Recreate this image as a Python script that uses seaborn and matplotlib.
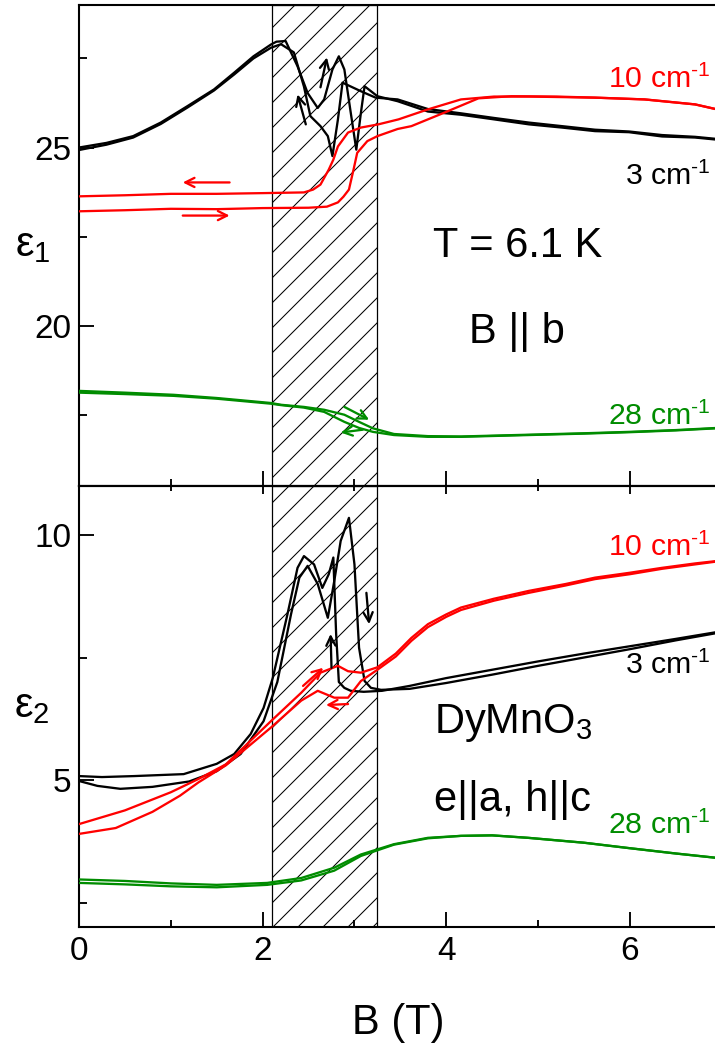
#!/usr/bin/env python3
"""eps1 / eps2 of DyMnO3 vs magnetic field, two stacked panels."""
import seaborn as sns
import matplotlib.pyplot as plt
from matplotlib.ticker import MultipleLocator

sns.set_theme(style="ticks")
plt.rcParams["font.family"] = ["Liberation Sans", "DejaVu Sans"]
plt.rcParams["mathtext.fontset"] = "custom"
plt.rcParams["mathtext.rm"] = "Liberation Sans"
plt.rcParams["mathtext.it"] = "Liberation Sans:italic"
plt.rcParams["hatch.linewidth"] = 0.5
for key in ("text.color", "axes.labelcolor", "xtick.color", "ytick.color", "axes.edgecolor"):
    plt.rcParams[key] = "black"

RED = "#ff0000"
GREEN = "#008c00"
BLACK = "black"

# ---- eps1 (upper panel) ----
e1_3_up_x = [0, 0.30, 0.59, 0.89, 1.18, 1.47, 1.69, 1.90, 2.09, 2.15, 2.25, 2.38, 2.49, 2.60,
             2.67, 2.76, 2.83, 2.89, 2.96, 3.02, 3.07, 3.11, 3.25, 3.47, 3.80, 4.16, 4.52,
             4.90, 5.26, 5.62, 5.99, 6.35, 6.71, 6.95]
e1_3_up_y = [25.00, 25.13, 25.32, 25.70, 26.16, 26.63, 27.10, 27.56, 27.89, 27.97, 27.99, 27.28,
             26.53, 26.11, 26.35, 27.19, 27.56, 27.19, 25.97, 24.94, 25.97, 26.72, 26.44, 26.30,
             26.01, 25.92, 25.79, 25.65, 25.56, 25.46, 25.43, 25.31, 25.28, 25.22]
e1_3_dn_x = [0, 0.30, 0.59, 0.89, 1.18, 1.47, 1.69, 1.90, 2.09, 2.20, 2.34, 2.45, 2.52, 2.63,
             2.71, 2.76, 2.82, 2.87, 3.07, 3.23, 3.47, 3.80, 4.16, 4.52, 4.90, 5.26, 5.62,
             5.99, 6.35, 6.71, 6.95]
e1_3_dn_y = [24.93, 25.08, 25.28, 25.66, 26.12, 26.60, 27.05, 27.50, 27.80, 27.90, 27.67, 26.71,
             25.88, 25.60, 25.32, 24.76, 25.79, 26.82, 26.58, 26.40, 26.35, 26.08, 25.96, 25.83,
             25.70, 25.60, 25.50, 25.45, 25.35, 25.30, 25.24]

e1_10_up_x = [0, 0.5, 1.0, 1.5, 2.0, 2.5, 2.7, 2.82, 2.88, 2.94, 2.99, 3.03, 3.14, 3.25, 3.47,
              3.62, 3.98, 4.35, 4.71, 5.2, 5.62, 6.16, 6.71, 6.95]
e1_10_up_y = [23.21, 23.24, 23.28, 23.27, 23.30, 23.31, 23.34, 23.46, 23.62, 23.82, 24.38, 24.85,
              25.18, 25.32, 25.52, 25.60, 25.98, 26.38, 26.44, 26.43, 26.40, 26.35, 26.21, 26.07]
e1_10_dn_x = [0, 0.5, 1.0, 1.5, 2.0, 2.45, 2.55, 2.63, 2.72, 2.77, 2.82, 2.93, 3.07, 3.26, 3.48,
              3.80, 4.16, 4.52, 4.90, 5.62, 6.16, 6.71, 6.95]
e1_10_dn_y = [23.63, 23.66, 23.70, 23.70, 23.72, 23.74, 23.82, 23.96, 24.38, 24.66, 25.03, 25.42,
              25.56, 25.65, 25.79, 26.07, 26.35, 26.43, 26.43, 26.40, 26.35, 26.21, 26.07]

e1_28_x = [0, 0.5, 1.03, 1.5, 2.09, 2.20, 2.45, 2.67, 2.89, 3.05, 3.2, 3.43, 3.80, 4.16, 4.9,
           5.5, 6.0, 6.5, 6.95]
e1_28_up_y = [18.17, 18.12, 18.06, 17.97, 17.83, 17.78, 17.72, 17.64, 17.50, 17.30, 17.12, 16.96,
              16.90, 16.89, 16.94, 16.98, 17.02, 17.07, 17.13]
e1_28_dn_y = [18.12, 18.08, 18.03, 17.95, 17.81, 17.77, 17.70, 17.58, 17.30, 17.13, 17.02, 16.93,
              16.88, 16.88, 16.93, 16.97, 17.01, 17.06, 17.12]

# ---- eps2 (lower panel) ----
e2_3_up_x = [0, 0.2, 0.45, 0.8, 1.2, 1.5, 1.76, 2.01, 2.16, 2.31, 2.40, 2.49, 2.60, 2.71, 2.78,
             2.85, 2.94, 3.00, 3.05, 3.11, 3.18, 3.29, 3.6, 4.0, 4.5, 5.0, 5.5, 6.0, 6.5, 6.95]
e2_3_up_y = [4.98, 4.88, 4.82, 4.86, 4.97, 5.18, 5.53, 6.20, 7.00, 8.39, 9.13, 9.37, 9.00, 8.31,
             9.06, 9.88, 10.35, 9.40, 7.70, 7.02, 6.88, 6.84, 6.86, 6.98, 7.15, 7.33, 7.50, 7.67,
             7.85, 8.00]
e2_3_dn_x = [0, 0.25, 0.6, 1.14, 1.50, 1.69, 1.87, 2.01, 2.11, 2.27, 2.38, 2.45, 2.56, 2.65,
             2.72, 2.77, 2.80, 2.83, 2.89, 2.96, 3.1, 3.3, 3.6, 4.0, 4.5, 5.0, 5.5, 6.0, 6.5, 6.95]
e2_3_dn_y = [5.08, 5.06, 5.08, 5.12, 5.33, 5.53, 5.94, 6.47, 7.08, 8.38, 9.33, 9.57, 9.40, 8.92,
             9.20, 9.54, 8.00, 7.00, 6.88, 6.82, 6.80, 6.82, 6.92, 7.08, 7.25, 7.42, 7.58, 7.73,
             7.88, 8.02]

e2_10_up_x = [0, 0.5, 1.0, 1.3, 1.6, 2.09, 2.42, 2.63, 2.82, 2.93, 3.07, 3.25, 3.45, 3.62, 3.8,
              4.0, 4.16, 4.52, 4.9, 5.3, 5.62, 6.0, 6.35, 6.71, 6.95]
e2_10_up_y = [4.10, 4.38, 4.75, 5.02, 5.32, 6.20, 6.78, 7.19, 7.33, 7.22, 7.19, 7.30, 7.58, 7.90,
              8.18, 8.38, 8.52, 8.70, 8.86, 9.00, 9.13, 9.23, 9.33, 9.42, 9.47]
e2_10_dn_x = [0, 0.4, 0.8, 1.1, 1.3, 1.6, 2.09, 2.42, 2.60, 2.78, 2.93, 3.07, 3.25, 3.45, 3.62,
              3.8, 4.0, 4.16, 4.52, 4.9, 5.3, 5.62, 6.0, 6.35, 6.71, 6.95]
e2_10_dn_y = [3.90, 4.02, 4.35, 4.68, 4.95, 5.30, 6.07, 6.62, 6.82, 6.68, 6.68, 7.02, 7.25, 7.52,
              7.84, 8.12, 8.33, 8.47, 8.66, 8.82, 8.97, 9.10, 9.20, 9.31, 9.40, 9.46]

e2_28_x = [0, 0.5, 1.0, 1.5, 2.05, 2.42, 2.78, 3.07, 3.43, 3.8, 4.16, 4.5, 4.89, 5.5, 5.99,
           6.5, 6.95]
e2_28_up_y = [2.97, 2.94, 2.89, 2.86, 2.90, 3.00, 3.21, 3.48, 3.69, 3.82, 3.86, 3.87, 3.82, 3.72,
              3.61, 3.50, 3.41]
e2_28_dn_y = [2.90, 2.87, 2.83, 2.81, 2.86, 2.95, 3.15, 3.45, 3.68, 3.81, 3.86, 3.87, 3.82, 3.72,
              3.61, 3.50, 3.41]

# hysteresis region (T)
band = (2.1, 3.25)

# sweep arrows: (tail x, tail y, head x, head y, colour)
e1_arrows = [
    (1.64, 24.02, 1.13, 24.02, RED),
    (1.13, 23.09, 1.64, 23.09, RED),
    (2.47, 25.65, 2.38, 26.49, BLACK),
    (2.63, 26.69, 2.70, 27.53, BLACK),
    (2.89, 17.72, 3.16, 17.36, GREEN),
    (3.09, 17.08, 2.85, 17.00, GREEN),
]
e2_arrows = [
    (2.44, 6.92, 2.66, 7.29, RED),
    (2.93, 6.55, 2.69, 6.53, RED),
    (2.75, 7.29, 2.74, 7.98, BLACK),
    (3.13, 8.82, 3.16, 8.18, BLACK),
]

freq_labels = ["10 cm", "3 cm", "28 cm"]
freq_colors = [RED, BLACK, GREEN]
e1_label_y = [26.66, 23.96, 17.22]
e2_label_y = [9.57, 7.16, 3.90]

DPI = 150
fig = plt.figure(figsize=(715 / DPI, 1050 / DPI), dpi=DPI)
left = 79 / 715
width = 1.003 - left
ax1 = fig.add_axes([left, 1 - 486 / 1050, width, 481 / 1050])
ax2 = fig.add_axes([left, 1 - 927 / 1050, width, 441 / 1050], sharex=ax1)

LW = 1.1


def draw(ax, x, y, color):
    sns.lineplot(x=x, y=y, ax=ax, color=color, lw=LW, sort=False, estimator=None, zorder=3)


draw(ax1, e1_3_up_x, e1_3_up_y, BLACK)
draw(ax1, e1_3_dn_x, e1_3_dn_y, BLACK)
draw(ax1, e1_10_up_x, e1_10_up_y, RED)
draw(ax1, e1_10_dn_x, e1_10_dn_y, RED)
draw(ax1, e1_28_x, e1_28_up_y, GREEN)
draw(ax1, e1_28_x, e1_28_dn_y, GREEN)

draw(ax2, e2_3_up_x, e2_3_up_y, BLACK)
draw(ax2, e2_3_dn_x, e2_3_dn_y, BLACK)
draw(ax2, e2_10_up_x, e2_10_up_y, RED)
draw(ax2, e2_10_dn_x, e2_10_dn_y, RED)
draw(ax2, e2_28_x, e2_28_up_y, GREEN)
draw(ax2, e2_28_x, e2_28_dn_y, GREEN)

for ax, arrows in ((ax1, e1_arrows), (ax2, e2_arrows)):
    ax.axvspan(*band, facecolor="none", edgecolor="black", hatch="//", lw=0.6, zorder=1)
    for tx, ty, hx, hy, c in arrows:
        ax.annotate("", xy=(hx, hy), xytext=(tx, ty),
                    arrowprops=dict(arrowstyle="->", color=c, lw=1.1,
                                    shrinkA=0, shrinkB=0, mutation_scale=11),
                    zorder=4)

sup = "$^{\\text{-1}}$"
for ax, ys in ((ax1, e1_label_y), (ax2, e2_label_y)):
    for lab, c, y in zip(freq_labels, freq_colors, ys):
        ax.text(6.88, y, lab + sup, color=c, fontsize=14.5, ha="right", va="baseline")

ax1.text(3.86, 21.94, "T = 6.1 K", fontsize=20, va="baseline")
ax1.text(4.25, 19.52, "B || b", fontsize=20, va="baseline")
ax2.text(3.87, 5.96, "DyMnO$_3$", fontsize=20, va="baseline")
ax2.text(3.87, 4.37, "e||a, h||c", fontsize=20, va="baseline")

ax1.set_xlim(0, 6.95)
ax1.set_ylim(15.5, 29.0)
ax2.set_ylim(2.0, 11.0)

ax1.yaxis.set_major_locator(MultipleLocator(5))
ax1.yaxis.set_minor_locator(MultipleLocator(2.5))
ax2.yaxis.set_major_locator(MultipleLocator(5))
ax2.yaxis.set_minor_locator(MultipleLocator(2.5))
ax2.xaxis.set_major_locator(MultipleLocator(2))
ax2.xaxis.set_minor_locator(MultipleLocator(1))

for ax in (ax1, ax2):
    for s in ax.spines.values():
        s.set_linewidth(1.0)
        s.set_color("black")
    ax.tick_params(which="both", direction="in", width=0.9, color="black",
                   labelsize=16, labelcolor="black", right=False, top=False)
    ax.tick_params(which="major", length=7.2)
    ax.tick_params(which="minor", length=3.6)
    ax.tick_params(axis="y", pad=3.5)
    ax.tick_params(axis="x", pad=4.5)
    ax.set_xlabel("")

ax1.tick_params(labelbottom=False)
ax2.spines["top"].set_zorder(5)

top = ax2.secondary_xaxis("top")
top.xaxis.set_major_locator(MultipleLocator(2))
top.xaxis.set_minor_locator(MultipleLocator(1))
top.tick_params(which="both", direction="in", width=0.9, labeltop=False, color="black")
top.tick_params(which="major", length=4)
top.tick_params(which="minor", length=2.5)
top.spines["top"].set_linewidth(1.0)

ax1.set_ylabel("ε$_1$", rotation=0, fontsize=20, ha="center", va="center")
ax1.yaxis.set_label_coords(-0.072, 0.50)
ax2.set_ylabel("ε$_2$", rotation=0, fontsize=20, ha="center", va="center")
ax2.yaxis.set_label_coords(-0.074, 0.50)
ax2.set_xlabel("B (T)", fontsize=20, labelpad=17)

fig.savefig("out.png", dpi=DPI)
